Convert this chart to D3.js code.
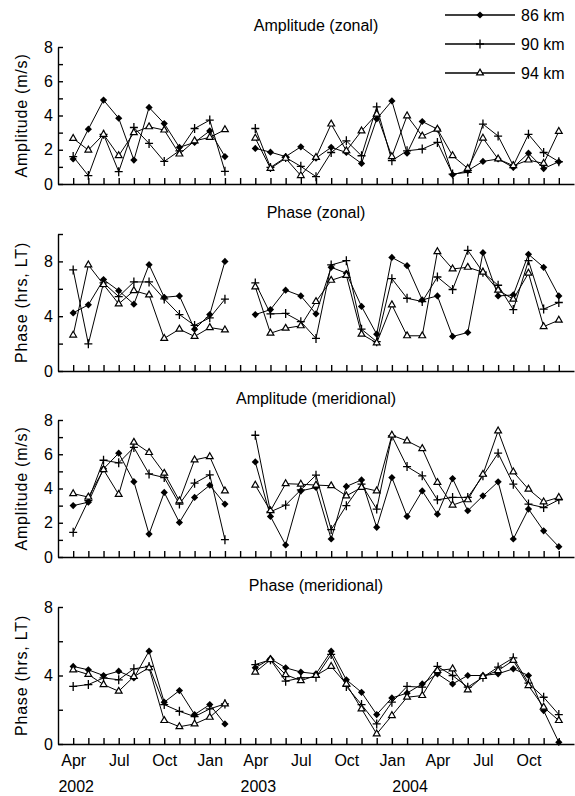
<!DOCTYPE html>
<html>
<head>
<meta charset="utf-8">
<script src="https://cdn.jsdelivr.net/npm/d3@7"></script>
<style>
  body { margin: 0; background: #fff; }
  svg text { font-family: "Liberation Sans", Arial, sans-serif; fill: #000; }
</style>
</head>
<body>
<svg id="graph" width="575" height="796"></svg>
<script>
// Mois des observations (pas de données en mars 2003)
const mois = ["2002-04", "2002-05", "2002-06", "2002-07", "2002-08", "2002-09", "2002-10", "2002-11",
    "2002-12", "2003-01", "2003-02", "2003-03", "2003-04", "2003-05", "2003-06", "2003-07", "2003-08",
    "2003-09", "2003-10", "2003-11", "2003-12", "2004-01", "2004-02", "2004-03", "2004-04", "2004-05",
    "2004-06", "2004-07", "2004-08", "2004-09", "2004-10", "2004-11", "2004-12"];

const altitudes = ["86 km", "90 km", "94 km"];

// Amplitude zonale (m/s)
const ampZonal86 = [1.46, 3.2, 4.9, 3.84, 1.4, 4.47, 3.53, 2.14, 2.43, 3.1, 1.6, null, 2.08, 1.86, 1.6, 2.17, 1.51, 2.14, 1.84, 1.2, 3.8, 4.85, 1.8, 3.65, 3.2, 0.54, 0.78, 1.32, 1.46, 0.97, 1.8, 0.9, 1.3];
const ampZonal90 = [1.6, 0.49, 2.9, 0.72, 3.3, 2.37, 1.32, 1.94, 3.24, 3.73, 0.74, null, 3.24, 0.97, 1.55, 1.03, 0.43, 1.84, 2.52, 1.65, 4.5, 1.36, 1.94, 2.04, 2.43, 0.58, 0.68, 3.5, 2.8, 1.07, 2.9, 1.84, 1.3];
const ampZonal94 = [2.66, 1.98, 2.9, 1.65, 3.0, 3.34, 3.15, 1.75, 2.52, 2.72, 3.17, null, 2.68, 0.91, 1.5, 0.49, 1.55, 3.5, 1.94, 3.1, 4.08, 1.6, 3.98, 2.8, 3.2, 1.65, 0.91, 2.68, 1.46, 1.07, 1.4, 1.2, 3.07];

// Phase zonale (heures, LT)
const phaseZonal86 = [4.24, 4.83, 6.67, 5.86, 4.88, 7.76, 5.38, 5.48, 3.05, 4.12, 8.0, null, 4.12, 4.48, 5.9, 5.48, 4.17, 7.57, 7.14, 4.71, 2.69, 8.29, 7.69, 5.19, 5.48, 2.52, 2.81, 8.64, 5.48, 5.55, 8.52, 7.57, 5.48];
const phaseZonal90 = [7.38, 1.98, 6.43, 5.43, 6.5, 6.5, 5.26, 4.12, 3.33, 3.88, 5.24, null, 6.43, 4.17, 4.2, 3.6, 2.38, 7.74, 8.05, 3.05, 2.14, 6.74, 5.31, 5.07, 6.86, 5.95, 8.81, 7.21, 6.26, 4.48, 8.05, 4.52, 5.0];
const phaseZonal94 = [2.62, 7.74, 6.31, 4.9, 5.86, 5.55, 2.38, 3.05, 2.52, 3.17, 3.0, null, 6.14, 2.76, 3.12, 3.3, 5.07, 6.62, 6.98, 2.69, 2.05, 4.83, 2.57, 2.57, 8.71, 7.45, 7.57, 7.21, 5.9, 5.24, 7.14, 3.24, 3.71];

// Amplitude méridienne (m/s)
const ampMerid86 = [3.0, 3.2, 5.15, 6.06, 4.4, 1.34, 3.77, 2.02, 3.48, 4.19, 3.09, null, 5.55, 2.37, 0.7, 3.86, 4.06, 1.05, 4.12, 4.5, 1.73, 4.64, 2.37, 3.86, 2.5, 4.58, 2.7, 3.57, 4.39, 1.05, 2.8, 1.53, 0.6];
const ampMerid90 = [1.44, 3.3, 5.65, 5.5, 6.4, 4.85, 4.64, 3.09, 4.31, 4.8, 1.01, null, 7.11, 2.64, 3.03, 3.92, 4.78, 1.6, 3.0, 4.25, 2.8, 7.07, 5.28, 4.74, 3.34, 3.48, 3.48, 4.74, 6.06, 4.25, 3.09, 2.89, 3.34];
const ampMerid94 = [3.7, 3.5, 5.1, 3.65, 6.7, 6.1, 4.89, 3.28, 5.67, 5.86, 3.86, null, 4.19, 2.7, 4.28, 4.25, 4.2, 4.16, 3.57, 4.06, 3.86, 7.11, 6.78, 6.33, 4.35, 3.03, 3.34, 4.83, 7.36, 4.97, 3.96, 3.22, 3.48];

// Phase méridienne (heures, LT)
const phaseMerid86 = [4.53, 4.33, 4.0, 4.25, 3.86, 5.42, 2.44, 3.12, 1.72, 2.3, 1.17, null, 4.45, 4.98, 4.45, 4.2, 4.1, 5.42, 3.75, 3.02, 1.72, 2.69, 2.97, 3.51, 4.1, 3.51, 4.0, 4.0, 4.1, 4.39, 4.0, 1.95, 0.1];
const phaseMerid90 = [3.36, 3.47, 3.86, 3.75, 4.39, 4.53, 2.3, 1.91, 1.6, 2.05, 2.34, null, 4.64, 4.92, 3.67, 3.86, 3.9, 5.23, 3.36, 2.3, 1.17, 2.44, 3.36, 3.32, 4.53, 4.0, 3.32, 3.9, 4.49, 5.03, 3.55, 2.73, 1.72];
const phaseMerid94 = [4.33, 4.06, 3.47, 3.08, 3.94, 4.45, 1.37, 1.01, 1.17, 1.56, 2.34, null, 4.2, 4.92, 4.05, 3.7, 4.0, 4.53, 3.5, 2.05, 0.59, 1.66, 2.73, 2.83, 4.29, 4.39, 3.16, 3.94, 4.29, 4.88, 3.41, 2.15, 1.37];

// Textes et graduations des quatre panneaux
const titres = ["Amplitude (zonal)", "Phase (zonal)", "Amplitude (meridional)", "Phase (meridional)"];
const titresY = ["Amplitude (m/s)", "Phase (hrs, LT)", "Amplitude (m/s)", "Phase (hrs, LT)"];
const maxY = [8, 10, 8, 8];
const pasGraduation = [1, 2, 1, 2];
const pasEtiquette = [2, 4, 2, 4];

// Étiquettes de l'axe des x
const moisEtiquetes = ["Jan", "Apr", "Jul", "Oct"];
const annees = ["2002", "2003", "2004"];
const positionAnnees = ["2002-04", "2003-04", "2004-02"];

const panneaux = [
    [ampZonal86, ampZonal90, ampZonal94],
    [phaseZonal86, phaseZonal90, phaseZonal94],
    [ampMerid86, ampMerid90, ampMerid94],
    [phaseMerid86, phaseMerid90, phaseMerid94]
];

const svg = d3.select("#graph");

// Échelle des x : un point par mois, de mars 2002 à janvier 2005
const domaineX = ["2002-03", ...mois, "2005-01"];
const xScale = d3.scalePoint()
    .domain(domaineX)
    .range([58, 574]);

const formatMois = d3.utcFormat("%b");
const lireMois = d3.utcParse("%Y-%m");

const hautPanneau = [47, 234, 420, 607];
const hauteur = 137;

// Marqueurs : losange plein, croix, triangle vide
function marqueur(sel, k) {
    if (k === 0) {
        sel.append("path")
            .attr("d", d3.symbol().type(d3.symbolSquare).size(26)())
            .attr("transform", "rotate(45)")
            .attr("fill", "#000");
    } else if (k === 1) {
        sel.append("path")
            .attr("d", "M-4,0H4M0,-4.5V4.5")
            .attr("stroke", "#000")
            .attr("stroke-width", 1.3)
            .attr("fill", "none");
    } else {
        sel.append("path")
            .attr("d", d3.symbol().type(d3.symbolTriangle).size(20)())
            .attr("fill", "#fff")
            .attr("stroke", "#000")
            .attr("stroke-width", 1.2);
    }
}

panneaux.forEach((series, p) => {
    const haut = hautPanneau[p];
    const yScale = d3.scaleLinear()
        .domain([0, maxY[p]])
        .range([haut + hauteur, haut]);

    // Axe des y (graduations vers l'intérieur)
    svg.append("g")
        .attr("transform", "translate(58,0)")
        .call(d3.axisLeft(yScale)
            .tickValues(d3.range(0, maxY[p] + 0.01, pasGraduation[p]))
            .tickSize(-5)
            .tickSizeOuter(0)
            .tickPadding(5)
            .tickFormat(d => d % pasEtiquette[p] === 0 ? d : ""))
        .call(g => g.selectAll("line, path").attr("stroke", "#000").attr("stroke-width", 1.4))
        .call(g => g.selectAll("text").style("font-size", "16px"));

    // Axe des x, étiquettes seulement sur le dernier panneau
    const dernier = p === panneaux.length - 1;
    const axeX = svg.append("g")
        .attr("transform", `translate(0,${haut + hauteur})`)
        .call(d3.axisBottom(xScale)
            .tickValues(mois)
            .tickSize(-6)
            .tickSizeOuter(0)
            .tickPadding(11)
            .tickFormat(d => {
                const m = formatMois(lireMois(d));
                return dernier && moisEtiquetes.includes(m) ? m : "";
            }))
        .call(g => g.selectAll("line, path").attr("stroke", "#000").attr("stroke-width", 1.4))
        .call(g => g.selectAll("text").style("font-size", "16px"));

    if (dernier) {
        axeX.selectAll(".annee")
            .data(annees)
            .enter()
            .append("text")
            .attr("class", "annee")
            .attr("x", (d, i) => xScale(positionAnnees[i]) + 3)
            .attr("y", 48)
            .attr("text-anchor", "middle")
            .style("font-size", "16px")
            .text(d => d);
    }

    // Titre du panneau
    svg.append("text")
        .attr("x", 316)
        .attr("y", haut - 22)
        .attr("dy", "0.35em")
        .attr("text-anchor", "middle")
        .style("font-size", "16px")
        .text(titres[p]);

    // Titre de l'axe y
    svg.append("text")
        .attr("transform", `translate(21,${haut + hauteur / 2}) rotate(-90)`)
        .attr("dy", "0.35em")
        .attr("text-anchor", "middle")
        .style("font-size", "16px")
        .style("letter-spacing", "0.8px")
        .text(titresY[p]);

    // Courbes et marqueurs de chaque altitude
    const ligne = d3.line()
        .defined(d => d.v !== null)
        .x(d => xScale(d.m))
        .y(d => yScale(d.v));

    series.forEach((valeurs, k) => {
        const points = mois.map((m, i) => ({ m: m, v: valeurs[i] }));

        svg.append("path")
            .datum(points)
            .attr("d", ligne)
            .attr("fill", "none")
            .attr("stroke", "#000")
            .attr("stroke-width", 1);

        svg.append("g")
            .selectAll("g")
            .data(points.filter(d => d.v !== null))
            .enter()
            .append("g")
            .attr("transform", d => `translate(${xScale(d.m)},${yScale(d.v)})`)
            .each(function () { marqueur(d3.select(this), k); });
    });
});

// Légende en haut à droite
const legende = svg.append("g")
    .selectAll("g")
    .data(altitudes)
    .enter()
    .append("g")
    .attr("transform", (d, i) => `translate(0,${15 + i * 29})`);

legende.append("line")
    .attr("x1", 445)
    .attr("x2", 515)
    .attr("stroke", "#000")
    .attr("stroke-width", 1.3);

legende.append("g")
    .attr("transform", "translate(480,0)")
    .each(function (d, i) { marqueur(d3.select(this), i); });

legende.append("text")
    .attr("x", 521)
    .attr("dy", "0.35em")
    .style("font-size", "16px")
    .text(d => d);
</script>
</body>
</html>
